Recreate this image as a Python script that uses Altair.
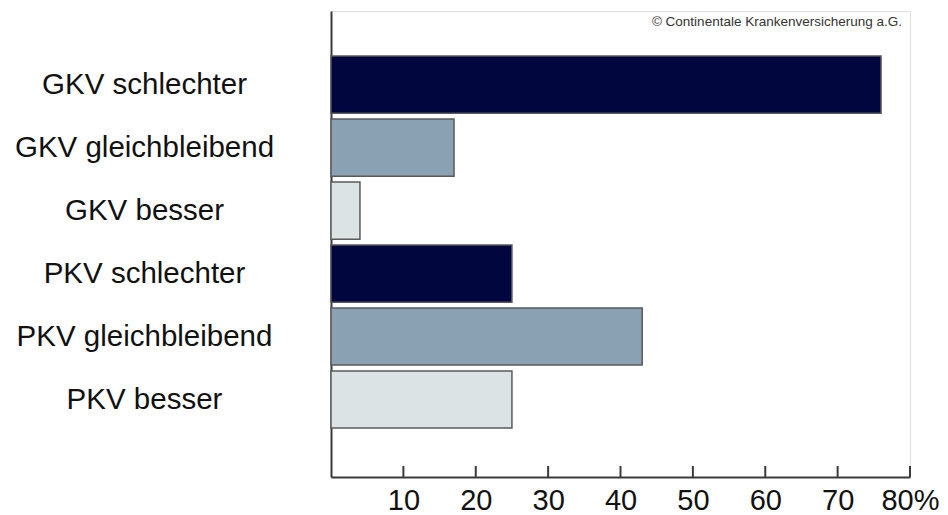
import altair as alt
import pandas as pd

# Survey answers: expected development of health insurance (GKV = statutory, PKV = private)
categories = [
    "GKV schlechter",
    "GKV gleichbleibend",
    "GKV besser",
    "PKV schlechter",
    "PKV gleichbleibend",
    "PKV besser",
]
shares = [76, 17, 4, 25, 43, 25]
answers = ["schlechter", "gleichbleibend", "besser", "schlechter", "gleichbleibend", "besser"]

answer_levels = ["schlechter", "gleichbleibend", "besser"]
answer_colors = ["#01063f", "#8aa0b3", "#dce3e5"]

tick_values = [10, 20, 30, 40, 50, 60, 70, 80]

source_note = ["© Continentale Krankenversicherung a.G."]

bars_df = pd.DataFrame({"kategorie": categories, "anteil": shares, "antwort": answers})
ticks_df = pd.DataFrame({"wert": tick_values})
note_df = pd.DataFrame({"text": source_note})

W, H = 579, 466
AXIS_COLOR = "#3a3a3a"

x_scale = alt.Scale(domain=[0, 80], nice=False, zero=True)

bars = alt.Chart(bars_df).mark_bar(stroke="#5a5a5a", strokeWidth=1.5).encode(
    y=alt.Y(
        "kategorie:N",
        sort=categories,
        title=None,
        scale=alt.Scale(paddingInner=0.095, paddingOuter=0.746, align=0.48),
        axis=alt.Axis(
            domain=True,
            domainColor=AXIS_COLOR,
            domainWidth=2,
            ticks=False,
            labelAlign="center",
            labelBaseline="middle",
            labelPadding=187,
            labelLimit=0,
            labelFont="Liberation Sans",
            labelFontSize=29.5,
            labelColor="#111111",
        ),
    ),
    x=alt.X(
        "anteil:Q",
        scale=x_scale,
        title=None,
        axis=alt.Axis(
            values=tick_values,
            labelExpr="datum.value == 80 ? '80%' : datum.label",
            format="d",
            domain=True,
            domainColor=AXIS_COLOR,
            domainWidth=2,
            ticks=False,
            grid=False,
            labelBaseline="alphabetic",
            labelPadding=32,
            labelFont="Liberation Sans",
            labelFontSize=29,
            labelColor="#111111",
            labelFlush=False,
            labelOverlap=False,
        ),
    ),
    color=alt.Color(
        "antwort:N",
        scale=alt.Scale(domain=answer_levels, range=answer_colors),
        legend=None,
    ),
)

# inward-pointing tick marks on the value axis
tick_marks = alt.Chart(ticks_df).mark_rule(color=AXIS_COLOR, strokeWidth=2).encode(
    x=alt.X("wert:Q", scale=x_scale),
    y=alt.value(H - 11),
    y2=alt.value(H),
)

# copyright note in the upper right corner
note = alt.Chart(note_df).mark_text(
    align="right",
    baseline="alphabetic",
    font="Liberation Sans",
    fontSize=13.5,
    color="#333333",
).encode(
    text="text:N",
    x=alt.value(W - 8),
    y=alt.value(15),
)

chart = (
    alt.layer(bars, tick_marks, note)
    .properties(
        width=W,
        height=H,
        autosize=alt.AutoSizeParams(type="none"),
        padding={"left": 331, "top": 11, "right": 38, "bottom": 38},
    )
    .configure_view(strokeWidth=0, stroke="transparent")
    .configure(background="white")
)

chart.save("out.html", embed_options={"renderer": "svg", "actions": False})
